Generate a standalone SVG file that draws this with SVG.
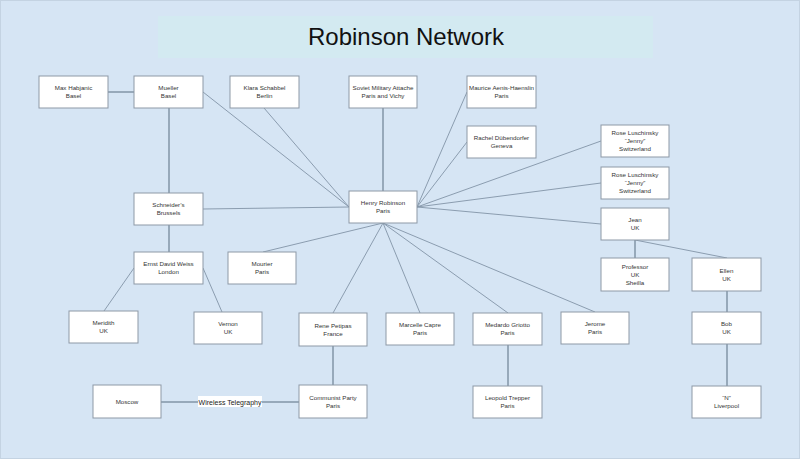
<svg xmlns="http://www.w3.org/2000/svg" width="800" height="459" viewBox="0 0 800 459">
<style>
.bg{fill:#d6e5f4;stroke:#c4d3e2;stroke-width:1}
.band{fill:#d3eaf1}
.title{font-family:"Liberation Sans",Arial,sans-serif;font-size:24px;fill:#111}
.box{fill:#ffffff;stroke:#8d99a6;stroke-width:1}
.t{font-family:"Liberation Sans",Arial,sans-serif;font-size:6.2px;fill:#333;text-anchor:middle}
.c line{stroke:#8294a7;stroke-width:0.9}
.c .thick{stroke-width:1.5}
.lbl{font-family:"Liberation Sans",Arial,sans-serif;font-size:7px;fill:#222;text-anchor:middle}
</style>
<rect class="bg" x="0.5" y="0.5" width="799" height="458"/>
<rect class="band" x="158" y="16" width="495" height="42"/>
<text class="title" x="406" y="45" text-anchor="middle">Robinson Network</text>

<g class="c" id="connectors">
<line class="thick" x1="108" y1="92" x2="134" y2="92"/>
<line class="thick" x1="169" y1="108" x2="169" y2="193"/>
<line class="thick" x1="169" y1="225" x2="169" y2="252"/>
<line x1="203" y1="209" x2="349" y2="207"/>
<line x1="203" y1="92" x2="349" y2="207"/>
<line x1="264" y1="108" x2="349" y2="207"/>
<line class="thick" x1="383" y1="108" x2="383" y2="191"/>
<line x1="467" y1="92" x2="417" y2="207"/>
<line x1="467" y1="142" x2="417" y2="207"/>
<line x1="601" y1="141" x2="417" y2="207"/>
<line x1="601" y1="183" x2="417" y2="207"/>
<line x1="601" y1="224" x2="417" y2="207"/>
<line x1="383" y1="223" x2="263" y2="252"/>
<line x1="383" y1="223" x2="333" y2="313"/>
<line x1="383" y1="223" x2="420" y2="313"/>
<line x1="383" y1="223" x2="508" y2="313"/>
<line x1="383" y1="223" x2="595" y2="312"/>
<line x1="134" y1="268" x2="104" y2="311"/>
<line x1="203" y1="268" x2="222" y2="312"/>
<line class="thick" x1="635" y1="240" x2="635" y2="258"/>
<line x1="635" y1="240" x2="727" y2="258"/>
<line class="thick" x1="727" y1="291" x2="727" y2="312"/>
<line class="thick" x1="727" y1="344" x2="727" y2="386"/>
<line class="thick" x1="333" y1="346" x2="333" y2="385"/>
<line class="thick" x1="508" y1="345" x2="508" y2="386"/>
<line class="thick" x1="161" y1="402" x2="299" y2="402"/>
<rect x="198" y="396" width="64" height="11" fill="#ffffff"/>
<text class="lbl" x="230" y="404.5">Wireless Telegraphy</text>
</g>

<g id="max"><rect class="box" x="39" y="76" width="69" height="32"/><text class="t" x="73.5" y="90">Max Habjanic</text><text class="t" x="73.5" y="98">Basel</text></g>
<g id="mueller"><rect class="box" x="134" y="76" width="69" height="32"/><text class="t" x="168.5" y="90">Mueller</text><text class="t" x="168.5" y="98">Basel</text></g>
<g id="klara"><rect class="box" x="230" y="76" width="69" height="32"/><text class="t" x="264.5" y="90">Klara Schabbel</text><text class="t" x="264.5" y="98">Berlin</text></g>
<g id="soviet"><rect class="box" x="349" y="76" width="68" height="32"/><text class="t" x="383" y="90">Soviet Military Attache</text><text class="t" x="383" y="98">Paris and Vichy</text></g>
<g id="maurice"><rect class="box" x="467" y="76" width="69" height="32"/><text class="t" x="501.5" y="90">Maurice Aenis-Haenslin</text><text class="t" x="501.5" y="98">Paris</text></g>
<g id="rachel"><rect class="box" x="467" y="126" width="69" height="32"/><text class="t" x="501.5" y="140">Rachel Dübendorfer</text><text class="t" x="501.5" y="148">Geneva</text></g>
<g id="rose1"><rect class="box" x="601" y="125" width="68" height="32"/><text class="t" x="635" y="135">Rose Luschinsky</text><text class="t" x="635" y="143">“Jenny”</text><text class="t" x="635" y="151">Switzerland</text></g>
<g id="rose2"><rect class="box" x="601" y="167" width="68" height="32"/><text class="t" x="635" y="177">Rose Luschinsky</text><text class="t" x="635" y="185">“Jenny”</text><text class="t" x="635" y="193">Switzerland</text></g>
<g id="jean"><rect class="box" x="601" y="208" width="68" height="32"/><text class="t" x="635" y="222">Jean</text><text class="t" x="635" y="230">UK</text></g>
<g id="schneider"><rect class="box" x="134" y="193" width="69" height="32"/><text class="t" x="168.5" y="207">Schneider’s</text><text class="t" x="168.5" y="215">Brussels</text></g>
<g id="henry"><rect class="box" x="349" y="191" width="68" height="32"/><text class="t" x="383" y="205">Henry Robinson</text><text class="t" x="383" y="213">Paris</text></g>
<g id="ernst"><rect class="box" x="134" y="252" width="69" height="32"/><text class="t" x="168.5" y="266">Ernst David Weiss</text><text class="t" x="168.5" y="274">London</text></g>
<g id="mourier"><rect class="box" x="228" y="252" width="68" height="32"/><text class="t" x="262" y="266">Mourier</text><text class="t" x="262" y="274">Paris</text></g>
<g id="professor"><rect class="box" x="601" y="258" width="68" height="33"/><text class="t" x="635" y="268.5">Professor</text><text class="t" x="635" y="276.5">UK</text><text class="t" x="635" y="284.5">Sheilla</text></g>
<g id="ellen"><rect class="box" x="692" y="258" width="69" height="33"/><text class="t" x="726.5" y="272.5">Ellen</text><text class="t" x="726.5" y="280.5">UK</text></g>
<g id="meridith"><rect class="box" x="69" y="311" width="69" height="32"/><text class="t" x="103.5" y="325">Meridith</text><text class="t" x="103.5" y="333">UK</text></g>
<g id="vernon"><rect class="box" x="194" y="312" width="68" height="32"/><text class="t" x="228" y="326">Vernon</text><text class="t" x="228" y="334">UK</text></g>
<g id="rene"><rect class="box" x="299" y="313" width="68" height="33"/><text class="t" x="333" y="327.5">Rene Petipas</text><text class="t" x="333" y="335.5">France</text></g>
<g id="marcelle"><rect class="box" x="386" y="313" width="68" height="32"/><text class="t" x="420" y="327">Marcelle Capre</text><text class="t" x="420" y="335">Paris</text></g>
<g id="medardo"><rect class="box" x="473" y="313" width="69" height="32"/><text class="t" x="507.5" y="327">Medardo Griotto</text><text class="t" x="507.5" y="335">Paris</text></g>
<g id="jerome"><rect class="box" x="561" y="312" width="68" height="32"/><text class="t" x="595" y="326">Jerome</text><text class="t" x="595" y="334">Paris</text></g>
<g id="bob"><rect class="box" x="692" y="312" width="69" height="32"/><text class="t" x="726.5" y="326">Bob</text><text class="t" x="726.5" y="334">UK</text></g>
<g id="moscow"><rect class="box" x="93" y="385" width="68" height="33"/><text class="t" x="127" y="403.5">Moscow</text></g>
<g id="communist"><rect class="box" x="299" y="385" width="68" height="33"/><text class="t" x="333" y="399.5">Communist Party</text><text class="t" x="333" y="407.5">Paris</text></g>
<g id="leopold"><rect class="box" x="473" y="386" width="69" height="32"/><text class="t" x="507.5" y="400">Leopold Trepper</text><text class="t" x="507.5" y="408">Paris</text></g>
<g id="n"><rect class="box" x="692" y="386" width="69" height="32"/><text class="t" x="726.5" y="400">“N”</text><text class="t" x="726.5" y="408">Liverpool</text></g>
</svg>
